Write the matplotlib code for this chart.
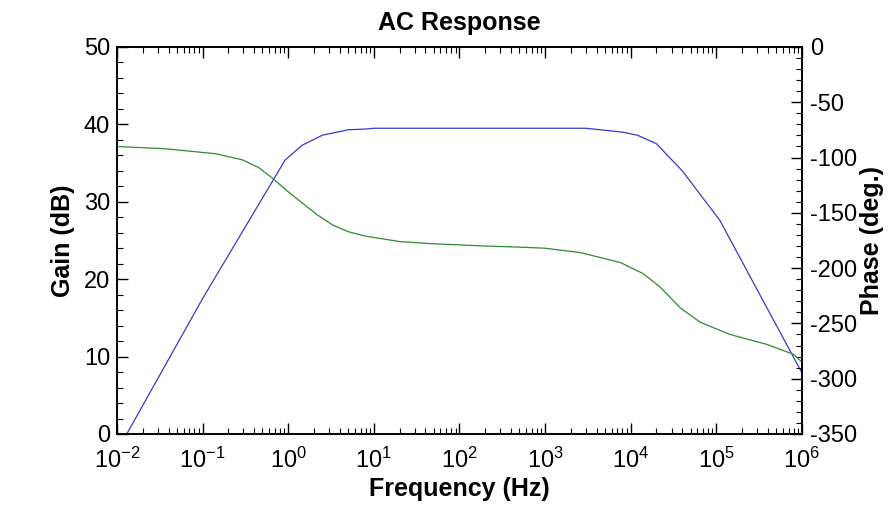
import matplotlib.pyplot as plt
from matplotlib.ticker import LogLocator, MultipleLocator
import numpy as np

plt.rcParams['font.family'] = ['Liberation Sans', 'DejaVu Sans']
plt.rcParams['axes.unicode_minus'] = False

# gain curve (blue), left axis
gain_freq = [0.013, 0.1, 0.92, 1.45, 2.5, 5, 8, 10, 100, 1e3, 3e3,
             8e3, 1.2e4, 2e4, 4e4, 1.1e5, 1e6]
gain_db = [0.0, 17.5, 35.4, 37.3, 38.6, 39.3, 39.4, 39.5, 39.5,
           39.5, 39.5, 39.0, 38.6, 37.5, 34.0, 27.6, 7.9]

# phase curve (green), right axis
phase_freq = [0.01, 0.036, 0.14, 0.29, 0.45, 0.65, 1.0, 1.45, 2.2, 3.3, 5, 7.9,
              20, 50, 100, 200, 500, 1e3, 2.6e3, 7.6e3, 1.4e4, 2.2e4, 3.8e4,
              6.5e4, 1.45e5, 3.9e5, 8e5, 1e6]
phase_deg = [-90, -92, -96.5, -102, -109, -118.5, -131, -141, -152, -161, -167,
             -171, -176, -178, -179, -180, -181, -182, -186, -195, -205, -217,
             -236, -249, -260, -269, -278, -285]

fig = plt.figure(figsize=(8.96, 5.18), dpi=100)
ax = fig.add_axes([0.1306, 0.1622, 0.7644, 0.7471])
ax.plot(gain_freq, gain_db, color='#3a3ac8', lw=0.9)
ax.set_xscale('log')
ax.set_xlim(1e-2, 1e6)
ax.set_ylim(0, 50)
ax.yaxis.set_major_locator(MultipleLocator(10))
ax.yaxis.set_minor_locator(MultipleLocator(2))
ax.xaxis.set_major_locator(LogLocator(base=10, numticks=20))
ax.xaxis.set_minor_locator(LogLocator(base=10, subs=np.arange(2, 10), numticks=20))
ax.tick_params(axis='both', which='both', direction='in', labelsize=17)
ax.tick_params(axis='x', which='both', top=True)
ax.tick_params(which='major', length=8, width=1)
ax.tick_params(which='minor', length=4, width=0.8)
ax.tick_params(axis='x', pad=10)
ax.tick_params(axis='y', pad=5)
ax.set_xlabel('Frequency (Hz)', fontsize=18, fontweight='bold', labelpad=3)
ax.set_ylabel('Gain (dB)', fontsize=18, fontweight='bold', labelpad=6)
ax.set_title('AC Response', fontsize=18, fontweight='bold', pad=12)

ax2 = ax.twinx()
ax2.plot(phase_freq, phase_deg, color='#2e8b2e', lw=0.9)
ax2.set_ylim(-350, 0)
ax2.yaxis.set_major_locator(MultipleLocator(50))
ax2.yaxis.set_minor_locator(MultipleLocator(10))
ax2.tick_params(axis='y', which='both', direction='in', labelsize=17, pad=6)
ax2.tick_params(which='major', length=8, width=1)
ax2.tick_params(which='minor', length=4, width=0.8)
ax2.set_ylabel('Phase (deg.)', fontsize=18, fontweight='bold', labelpad=2)

for a in (ax, ax2):
    for s in a.spines.values():
        s.set_linewidth(1.2)

fig.savefig('out.png', dpi=100)
